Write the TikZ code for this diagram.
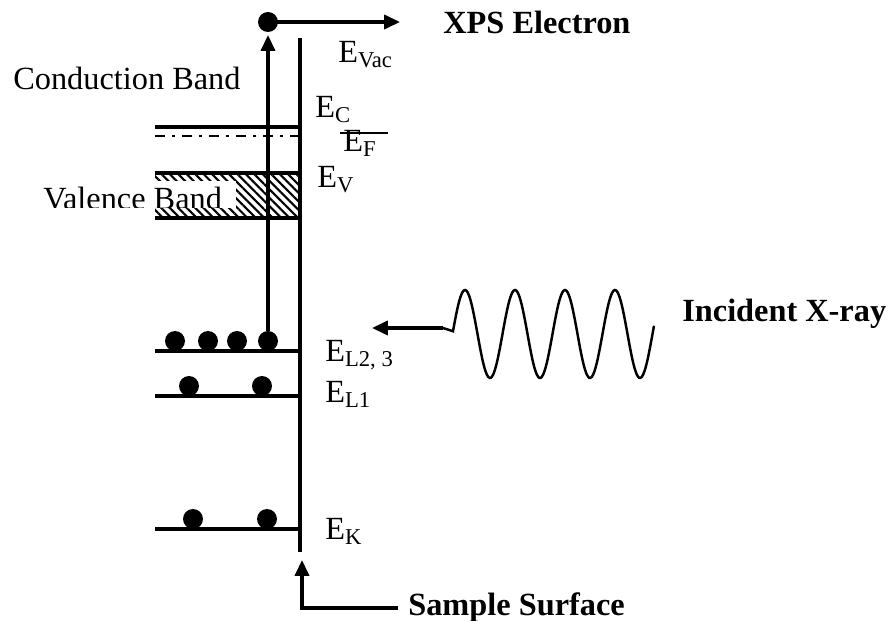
\documentclass[tikz,border=0pt]{standalone}
\usepackage{fontspec}
\setmainfont{Liberation Serif}
\usetikzlibrary{arrows.meta, positioning, patterns.meta, calc}
\tikzset{
  level/.style={line width=1.9pt},
  surface/.style={line width=2.5pt},
  elec/.style={circle, fill=black, inner sep=0pt, minimum size=0.4cm},
  arr/.style={-{Triangle[length=9pt, width=8pt]}, line width=1.8pt},
  lbl/.style={anchor=base west, inner sep=0pt, font=\fontsize{18.4}{22}\selectfont},
  title/.style={lbl, font=\fontsize{18.4}{22}\selectfont\bfseries},
}
\begin{document}
\begin{tikzpicture}[x=0.02cm, y=-0.02cm]
  \useasboundingbox (0,0) rectangle (894,621);
  % valence band hatching
  \fill[pattern={Lines[angle=-45, distance=3.4pt, line width=1.2pt]}] (155,173) rectangle (300,218);
  \fill[white] (40,181) rectangle (236,208);
  \begin{scope}
    \clip (40,181) rectangle (236,208);
    \node[lbl] (vband) at (43,210) {Valence Band};
  \end{scope}
  \node[lbl] (cband) at (13,90) {Conduction Band};
  % energy levels
  \foreach \y/\name in {127/c, 173/v, 218/vb, 351/l23, 396/l1, 529/k}
    \draw[level] (155,\y) coordinate (\name-l) -- (300,\y) coordinate (\name-r);
  \draw[line width=1.6pt, dash pattern=on 5.7pt off 4pt on 1.7pt off 4pt] (155,136) coordinate (f-l) -- (298,136) coordinate (f-r);
  \draw[line width=1.5pt] (340,133) coordinate (fbar-l) -- (388,133) coordinate (fbar-r);
  % sample surface
  \draw[surface] (300,38) coordinate (stop) -- (300,552) coordinate (sbot);
  % electrons
  \node[elec] (d1) at (175,341) {};
  \node[elec] (d2) at (208,341) {};
  \node[elec] (d3) at (237,341) {};
  \node[elec] (d4) at (268,341) {};
  \node[elec] (e1) at (189,386) {};
  \node[elec] (e2) at (262,386) {};
  \node[elec] (k1) at (193,519) {};
  \node[elec] (k2) at (267,519) {};
  \node[elec] (xps) at (268,22) {};
  % photoemission
  \coordinate (xpsend) at (400,22);
  \draw[arr, shorten >=1.5pt] (d4.north) -- (xps.south);
  \draw[arr] (xps.center) -- (xpsend);
  \node[title] (xpstxt) at (443,34) {XPS Electron};
  % level labels
  \node[lbl] (evac) at (338,63) {E\textsubscript{Vac}};
  \node[lbl] (ec) at (315,118) {E\textsubscript{C}};
  \node[lbl] (ef) at (343,152) {E\textsubscript{F}};
  \node[lbl] (ev) at (317,188) {E\textsubscript{V}};
  \node[lbl] (el23) at (325,362) {E\textsubscript{L2, 3}};
  \node[lbl] (el1) at (325,403) {E\textsubscript{L1}};
  \node[lbl] (ek) at (325,540) {E\textsubscript{K}};
  % incident x-ray
  \coordinate (xtip) at (372,328);
  \coordinate (xstart) at (443,328);
  \draw[arr] (xstart) -- (xtip);
  \draw[line width=1.4pt] (xstart) -- plot[domain=453:654, samples=150, smooth] (\x, {334-44*cos(7.2*(\x-465))});
  \node[title] (xray) at (682,322) {Incident X-ray};
  % sample surface pointer
  \coordinate (stip) at (302,560);
  \node[title] (sample) at (408,616) {Sample Surface};
  \draw[arr] (sample.west) ++(-10,0) -| (stip);
\end{tikzpicture}
\end{document}
